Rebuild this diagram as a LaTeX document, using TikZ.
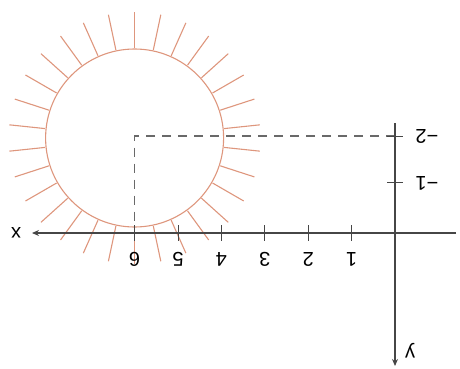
\documentclass[tikz,border=0pt]{standalone}
\usepackage{fontspec}
\setmainfont{Liberation Sans}
\usetikzlibrary{arrows.meta,calc}
\definecolor{sunline}{RGB}{222,150,125}
\definecolor{axisgray}{RGB}{70,70,70}
\definecolor{dashgray}{RGB}{105,105,105}
\begin{document}
\begin{tikzpicture}[x=1pt,y=-1pt,
  axisline/.style={draw=axisgray,line width=1.1pt,-{Stealth[length=7pt,width=6pt]}},
  tickline/.style={draw=axisgray,line width=1pt},
  guide/.style={draw=dashgray,line width=1.1pt,dash pattern=on 9pt off 7pt},
  sun/.style={draw=sunline,line width=1.1pt},
  lbl/.style={font=\fontsize{20}{22}\selectfont,text=black,rotate=180,inner sep=0pt}]
\useasboundingbox (0,0) rectangle (460,369);
% origin and axis ends
\coordinate (O) at (395,233);
\coordinate (xstart) at (456,233);
\coordinate (xend) at (32,233);
\coordinate (ystart) at (395,123);
\coordinate (yend) at (395,366);
\coordinate (C) at (134.6,138);
\coordinate (Cx) at (134.6,233);
\coordinate (Cy) at (395,136);
% sun: circle with rays
\draw[sun] (C) circle[radius=89];
\foreach \a in {6,18,...,354}
  \draw[sun] ($(C)+(\a:90)$) -- ($(C)+(\a:126)$);
% dashed guides to the centre
\draw[guide] (Cy) -- (134.6,136) -- (Cx);
% axes
\draw[axisline] (xstart) -- (xend);
\draw[axisline] (ystart) -- (yend);
\node[lbl] (xl) at (16,233) {x};
\node[lbl] (yl) at (410,351) {y};
% ticks on the x axis
\foreach \i in {1,...,6}{
  \draw[tickline] (395-43.4*\i,225) -- (395-43.4*\i,241);
  \node[lbl] (tx\i) at (395-43.4*\i,259) {\i};
}
% ticks on the y axis
\draw[tickline] (387,182) -- (403,182);
\draw[tickline] (387,136) -- (403,136);
\node[lbl] (ty1) at (427,183) {−1};
\node[lbl] (ty2) at (427,136) {−2};
\end{tikzpicture}
\end{document}
